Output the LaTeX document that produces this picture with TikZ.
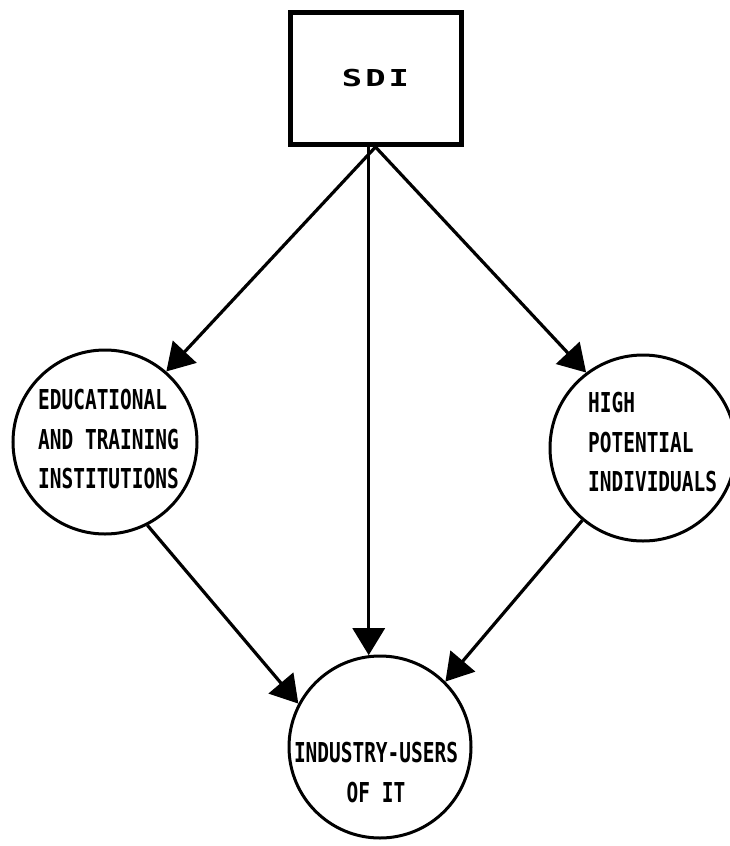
\documentclass[tikz,border=0pt]{standalone}
\usepackage{fontspec}
\usetikzlibrary{arrows.meta}
\newfontfamily\labfont[FakeStretch=0.71]{DejaVu Sans Mono}
\newfontfamily\sdifont[FakeStretch=1.45]{DejaVu Sans Mono}
\begin{document}
\begin{tikzpicture}[x=1pt,y=-1pt,
  circ/.style={circle,draw,line width=3pt,inner sep=0pt},
  lab/.style={font={\labfont\bfseries\fontsize{27.4}{39.5}\selectfont},inner sep=0pt,align=left},
  arr/.style={line width=3.2pt,-{Triangle[length=27pt,width=32pt]}}]
\fill[white] (0,0) rectangle (730,846);
\useasboundingbox (0,0) rectangle (730,846);
\node[draw,line width=5pt,minimum width=171pt,minimum height=132pt,inner sep=0pt] (sdi) at (375.5,78.5)
  {\sdifont\bfseries\fontsize{23.3}{28}\selectfont S\kern3pt D\kern3pt I\hspace{12pt}};
\node[circ,minimum size=184pt] (edu) at (105,442) {};
\node[circ,minimum size=186pt] (hpi) at (643,448) {};
\node[circ,minimum size=182pt] (ind) at (380,747) {};
\node[lab,anchor=north west] (edut) at (38,389) {EDUCATIONAL\\AND TRAINING\\INSTITUTIONS};
\node[lab,anchor=north west] (hpit) at (588,392) {HIGH\\POTENTIAL\\INDIVIDUALS};
\node[lab,align=center,anchor=north] (indt) at (376,742) {INDUSTRY-USERS\\OF IT};
\draw[arr] (sdi.south) -- (edu.49);
\draw[arr] (sdi.south) -- (hpi.127);
\draw[arr] (sdi.south -| ind.97) -- (ind.97);
\draw[arr] (edu.-63) -- (ind.152);
\draw[arr] (hpi.-130) -- (ind.45);
\end{tikzpicture}
\end{document}
